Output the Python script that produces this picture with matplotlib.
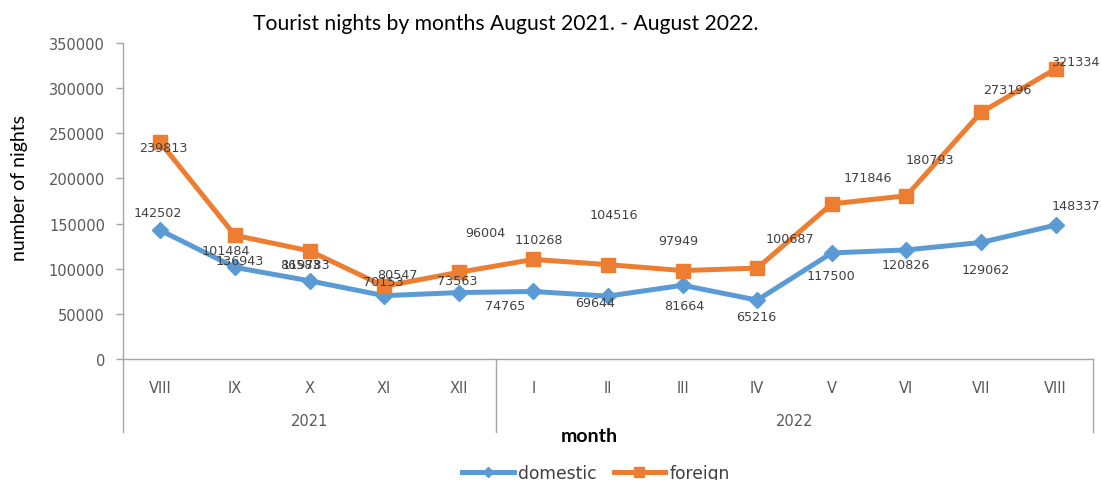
import matplotlib
matplotlib.use("Agg")
import matplotlib.pyplot as plt
import matplotlib.transforms as mtransforms

# ---- data ----
months = ["VIII", "IX", "X", "XI", "XII", "I", "II", "III", "IV", "V", "VI", "VII", "VIII"]
years = ["2021", "2022"]
year_sizes = [5, 8]
domestic = [142502, 101484, 86583, 70153, 73563, 74765, 69644, 81664, 65216, 117500, 120826, 129062, 148337]
foreign = [239813, 136943, 119783, 80547, 96004, 110268, 104516, 97949, 100687, 171846, 180793, 273196, 321334]
yticks = [0, 50000, 100000, 150000, 200000, 250000, 300000, 350000]

# label offsets (pixels, style only)
dom_off = [(-3, 18), (-9, 17), (-9, 16), (-1, 14), (-2, 12), (-28, -14), (-13, -6),
           (2, -20), (-1, -16), (-1, -23), (-1, -15), (5, -27), (20, 20)]
for_off = [(3, -5), (5, -25), (-4, -14), (13, 12), (27, 40), (5, 20), (6, 50),
           (-4, 30), (33, 30), (36, 26), (23, 36), (26, 23), (20, 7)]

BLUE = "#5B9BD5"
ORANGE = "#ED7D31"
GRAY = "#A6A6A6"
TXT = "#404040"
W, H = 1102, 481

fig = plt.figure(figsize=(W / 100, H / 100), dpi=100)
ax = fig.add_axes([123 / W, 1 - 360 / H, 970 / W, 316 / H])

x = list(range(len(months)))
ax.plot(x, domestic, color=BLUE, lw=3.6, marker="D", ms=8, label="domestic",
        solid_joinstyle="round", zorder=3)
ax.plot(x, foreign, color=ORANGE, lw=3.6, marker="s", ms=10, label="foreign",
        solid_joinstyle="round", zorder=3)

for xi, v, (dx, dy) in zip(x, domestic, dom_off):
    ax.annotate(str(v), (xi, v), xytext=(dx, dy), textcoords="offset pixels",
                ha="center", va="center", fontsize=9.2, color=TXT, family="DejaVu Sans", zorder=5)
for xi, v, (dx, dy) in zip(x, foreign, for_off):
    ax.annotate(str(v), (xi, v), xytext=(dx, dy), textcoords="offset pixels",
                ha="center", va="center", fontsize=9.2, color=TXT, family="DejaVu Sans", zorder=5)

ax.set_xlim(-0.5, len(months) - 0.5)
ax.set_ylim(0, 350000)
ax.set_yticks(yticks)
ax.set_yticklabels([str(t) for t in yticks], fontsize=10.5, color="#595959", family="DejaVu Sans")
ax.tick_params(axis="y", length=5, width=1, color=GRAY, pad=8)
ax.set_xticks(x)
ax.set_xticklabels(months, fontsize=10.5, color="#595959", family="DejaVu Sans")
ax.tick_params(axis="x", length=0, pad=15)

for s in ["top", "right"]:
    ax.spines[s].set_visible(False)
for s in ["left", "bottom"]:
    ax.spines[s].set_color(GRAY)
    ax.spines[s].set_linewidth(1)

trans = mtransforms.blended_transform_factory(ax.transData, ax.transAxes)
bottom_y = (360 - 433) / 316
start = -0.5
bounds = [start]
for yr, n in zip(years, year_sizes):
    mid = start + n / 2
    ax.text(mid, (360 - 422) / 316, yr, transform=trans, ha="center", va="center",
            fontsize=10.5, color="#595959", family="DejaVu Sans")
    start += n
    bounds.append(start)
for b in bounds:
    ax.plot([b, b], [0, bottom_y], transform=trans, color=GRAY, lw=1, clip_on=False)

fig.text(506 / W, 1 - 24 / H, "Tourist nights by months August 2021. - August 2022.",
         ha="center", va="center", fontsize=15.2, family="Lato", color="black")
fig.text(20 / W, 1 - 188 / H, "number of nights", rotation=90, ha="center", va="center",
         fontsize=14, family="Lato", color="black")
fig.text(589 / W, 1 - 437 / H, "month", ha="center", va="center",
         fontsize=14, family="Lato", weight="bold", color="black")

fig.legend(loc="center", bbox_to_anchor=(596 / W, 1 - 474 / H), ncol=2, frameon=False,
           prop={"family": "DejaVu Sans", "size": 12.3}, handlelength=3.0, columnspacing=1.0,
           handletextpad=0.25, labelcolor=TXT, markerscale=0.7)

fig.savefig("out.png", dpi=100)
